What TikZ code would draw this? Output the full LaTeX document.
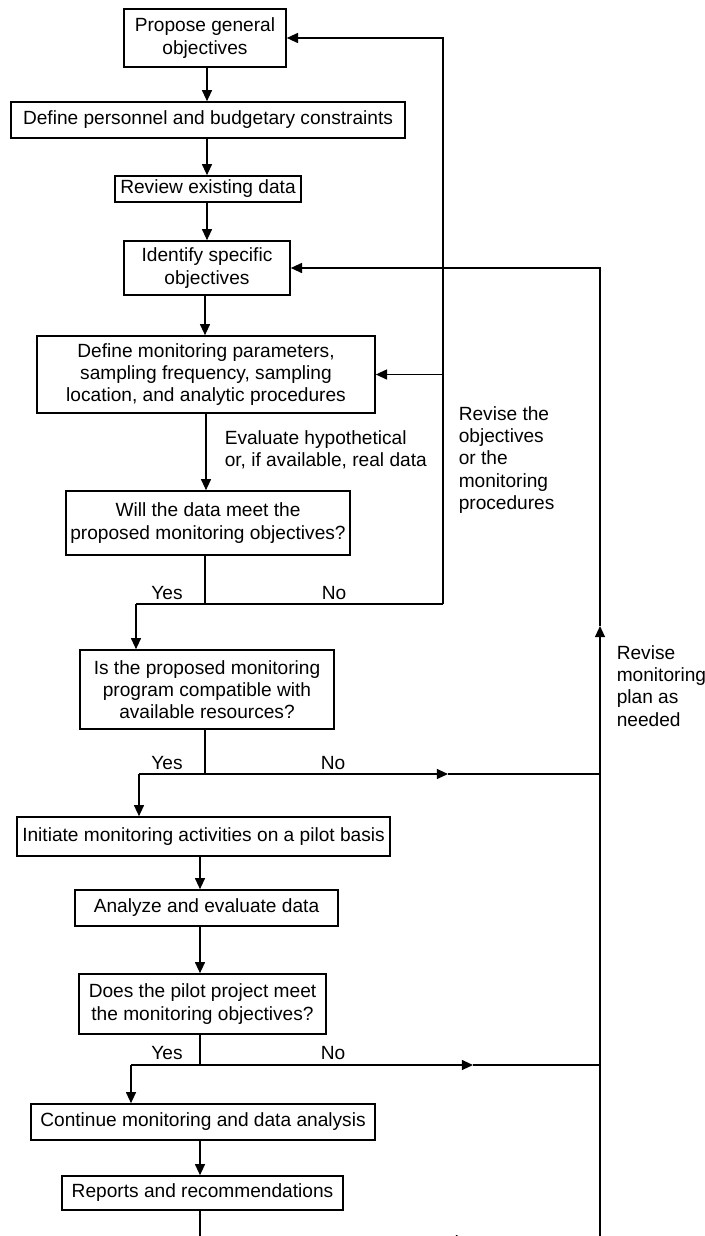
\documentclass[tikz,border=0pt]{standalone}
\usepackage{fontspec}
\setmainfont{Liberation Sans}
\usetikzlibrary{arrows.meta}

\begin{document}
\begin{tikzpicture}[x=0.025cm, y=-0.025cm, line width=1.1pt,
    font=\fontsize{13.6}{15.8}\selectfont,
    box/.style={draw, align=center, inner xsep=2pt, inner ysep=2pt},
    note/.style={align=left, anchor=west, inner sep=0pt},
    arr/.style={-{Triangle[length=2.8mm, width=2.5mm]}}]
    \clip (0,0) rectangle (704,1236);

    % Boxes
    \node[box, minimum width=4.05cm, minimum height=1.45cm] (propose) at (205,38) {Propose general\\objectives};
    \node[box, minimum width=9.85cm, minimum height=0.9cm] (personnel) at (208,120) {Define personnel and budgetary constraints};
    \node[box, minimum width=4.65cm, minimum height=0.65cm] (review) at (208,189) {Review existing data};
    \node[box, minimum width=4.15cm, minimum height=1.35cm] (identify) at (207,268) {Identify specific\\objectives};
    \node[box, minimum width=8.45cm, minimum height=1.925cm] (params) at (206,374.5) {Define monitoring parameters,\\sampling frequency, sampling\\location, and analytic procedures};
    \node[box, minimum width=7.1cm, minimum height=1.6cm] (willdata) at (208,523) {Will the data meet the\\proposed monitoring objectives?};
    \node[box, minimum width=6.35cm, minimum height=1.975cm] (compatible) at (207,689.5) {Is the proposed monitoring\\program compatible with\\available resources?};
    \node[box, minimum width=9.325cm, minimum height=0.975cm] (pilot) at (203.5,836.5) {Initiate monitoring activities on a pilot basis};
    \node[box, minimum width=6.575cm, minimum height=0.9cm] (analyze) at (206.5,908) {Analyze and evaluate data};
    \node[box, minimum width=6.175cm, minimum height=1.5cm] (meet) at (202.5,1004) {Does the pilot project meet\\the monitoring objectives?};
    \node[box, minimum width=8.6cm, minimum height=0.9cm] (continue) at (203,1122) {Continue monitoring and data analysis};
    \node[box, minimum width=7.025cm, minimum height=0.85cm] (reports) at (202.5,1193) {Reports and recommendations};

    % Labels
    \node[note] (evaluate) at (224,450) {Evaluate hypothetical\\or, if available, real data};
    \node[note] (reviseobj) at (458,460) {Revise the\\objectives\\or the\\monitoring\\procedures};
    \node[note] (reviseplan) at (616,686) {Revise\\monitoring\\plan as\\needed};
    \node (yesa) at (167,593) {Yes};
    \node (noa) at (334,593) {No};
    \node (yesb) at (167,763) {Yes};
    \node (nob) at (333,763) {No};
    \node (yesc) at (167,1053) {Yes};
    \node (noc) at (333,1053) {No};

    % Main column
    \draw[arr] (propose.south -| 207,0) -- (personnel.north -| 207,0);
    \draw[arr] (personnel.south -| 207,0) -- (review.north -| 207,0);
    \draw[arr] (review.south -| 207,0) -- (identify.north -| 207,0);
    \draw[arr] (identify.south -| 205,0) -- (params.north -| 205,0);
    \draw[arr] (params.south -| 206,0) -- (willdata.north -| 206,0);
    \draw[arr] (pilot.south -| 200,0) -- (analyze.north -| 200,0);
    \draw[arr] (analyze.south -| 200,0) -- (meet.north -| 200,0);
    \draw[arr] (continue.south -| 200,0) -- (reports.north -| 200,0);

    % First decision
    \coordinate (ya) at (136,604);
    \coordinate (na) at (443,604);
    \draw (willdata.south -| 205,0) -- (205,604);
    \draw (na) -- (ya);
    \draw[arr] (ya) -- (ya |- compatible.north);
    \draw[arr] (na) |- (propose.east);
    \draw[arr] (na |- params.east) -- (params.east);

    % Second decision
    \coordinate (yb) at (139,774);
    \coordinate (nb) at (600,774);
    \draw (compatible.south -| 205,0) -- (205,774);
    \draw (yb) -- (205,774);
    \draw[arr] (205,774) -- (448,774);
    \draw (448,774) -- (nb);
    \draw[arr] (yb) -- (yb |- pilot.north);

    % Third decision
    \coordinate (yc) at (131,1065);
    \coordinate (nc) at (600,1065);
    \draw (meet.south -| 200,0) -- (200,1065);
    \draw (yc) -- (200,1065);
    \draw[arr] (200,1065) -- (473,1065);
    \draw (473,1065) -- (nc);
    \draw[arr] (yc) -- (yc |- continue.north);

    % Bottom loop and right return line
    \coordinate (bl) at (200,1240);
    \coordinate (br) at (600,1240);
    \draw (reports.south -| 200,0) -- (bl);
    \draw[arr] (bl) -- (467,1240);
    \draw (467,1240) -- (br);
    \draw[arr] (br) -- (600,626);
    \draw[arr] (600,626) |- (identify.east);
\end{tikzpicture}
\end{document}
